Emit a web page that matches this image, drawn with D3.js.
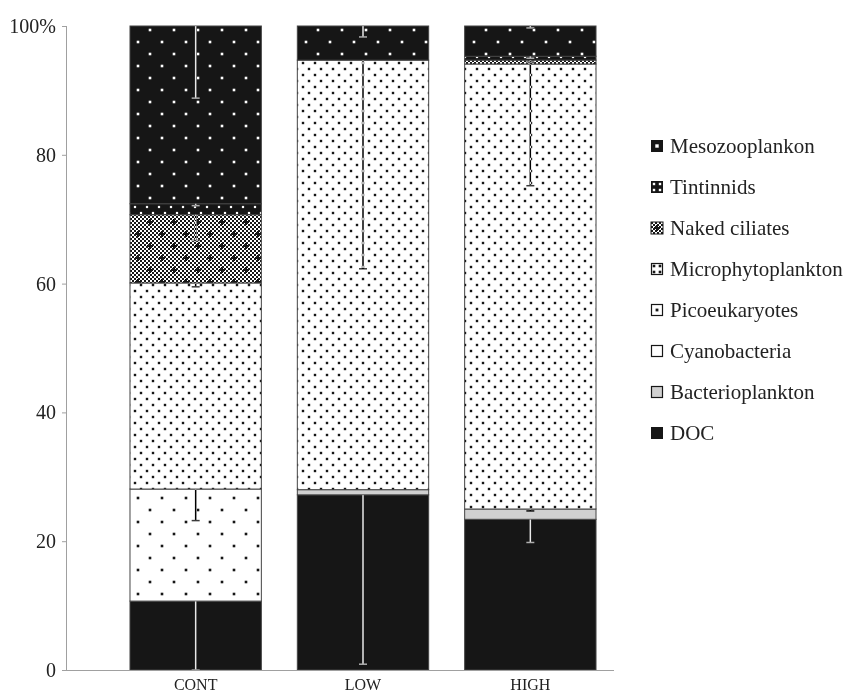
<!DOCTYPE html>
<html>
<head>
<meta charset="utf-8">
<script src="https://cdn.jsdelivr.net/npm/d3@7/dist/d3.min.js"></script>
<style>
  html, body { margin: 0; padding: 0; background: #fff; }
  svg { display: block; font-family: "Liberation Serif", "Times New Roman", serif; }
</style>
</head>
<body>
<svg id="chart" width="846" height="697"></svg>
<script>
// Treatments along the x axis
const categories = ["CONT", "LOW", "HIGH"];

// Compartments, stacked bottom to top
const seriesNames = ["DOC", "Bacterioplankton", "Cyanobacteria", "Picoeukaryotes",
  "Microphytoplankton", "Naked ciliates", "Tintinnids", "Mesozooplankon"];

// Share of the total (%) per treatment
const docVals   = [10.7, 27.2, 23.4];
const bactVals  = [0.0, 0.8, 1.6];
const cyanoVals = [0.0, 0.0, 0.0];
const picoVals  = [17.4, 0.0, 0.0];
const microVals = [32.0, 66.7, 69.1];
const nakedVals = [10.6, 0.0, 0.6];
const tintVals  = [1.7, 0.0, 0.6];
const mesoVals  = [27.6, 5.3, 4.7];

// Lower error bars (%) per treatment
const docErr   = [10.7, 26.3, 3.6];
const bactErr  = [0.0, 0.0, 0.3];
const cyanoErr = [0.0, 0.0, 0.0];
const picoErr  = [4.9, 0.0, 0.0];
const microErr = [0.6, 32.4, 18.9];
const nakedErr = [4.0, 0.0, 0.3];
const tintErr  = [0.3, 0.0, 0.3];
const mesoErr  = [11.2, 1.7, 0.3];

const yTicks = [0, 20, 40, 60, 80, 100];
const yTickLabels = ["0", "20", "40", "60", "80", "100%"];

const seriesVals = [docVals, bactVals, cyanoVals, picoVals, microVals, nakedVals, tintVals, mesoVals];
const seriesErrs = [docErr, bactErr, cyanoErr, picoErr, microErr, nakedErr, tintErr, mesoErr];

const rows = categories.map((c, i) => {
  const r = { cat: c };
  seriesNames.forEach((s, k) => { r[s] = seriesVals[k][i]; });
  return r;
});

const svg = d3.select("#chart");
const dark = "#161616";

// ---------- fill patterns ----------
const defs = svg.append("defs");

function dotPattern(id, size, bg, fg, dot) {
  const p = defs.append("pattern").attr("id", id)
    .attr("patternUnits", "userSpaceOnUse")
    .attr("width", size).attr("height", size);
  p.append("rect").attr("width", size).attr("height", size).attr("fill", bg);
  [[size / 4, size / 4], [3 * size / 4, 3 * size / 4]].forEach(([cx, cy]) => {
    p.append("rect").attr("x", cx - dot / 2).attr("y", cy - dot / 2)
      .attr("width", dot).attr("height", dot).attr("fill", fg);
  });
}

// fine checkerboard used by the naked-ciliate fill and its key
const chk = defs.append("pattern").attr("id", "chk")
  .attr("patternUnits", "userSpaceOnUse").attr("width", 4).attr("height", 4);
chk.append("rect").attr("width", 4).attr("height", 4).attr("fill", "#fff");
chk.append("rect").attr("width", 2).attr("height", 2).attr("fill", dark);
chk.append("rect").attr("x", 2).attr("y", 2).attr("width", 2).attr("height", 2).attr("fill", dark);

function crossAt(sel, cx, cy, arm) {
  sel.append("rect").attr("x", cx - arm).attr("y", cy - 1).attr("width", 2 * arm).attr("height", 2).attr("fill", dark);
  sel.append("rect").attr("x", cx - 1).attr("y", cy - arm).attr("width", 2).attr("height", 2 * arm).attr("fill", dark);
}

const naked = defs.append("pattern").attr("id", "naked")
  .attr("patternUnits", "userSpaceOnUse").attr("width", 24).attr("height", 24);
naked.append("rect").attr("width", 24).attr("height", 24).attr("fill", "url(#chk)");
crossAt(naked, 6, 6, 3);
crossAt(naked, 18, 18, 3);

dotPattern("meso", 24, dark, "#fff", 2.6);
dotPattern("tint", 12, dark, "#fff", 2.2);
dotPattern("micro", 12, "#fff", dark, 2.4);
dotPattern("pico", 24, "#fff", dark, 2.6);

function fillFor(name) {
  switch (name) {
    case "DOC": return dark;
    case "Bacterioplankton": return "#d0d0d0";
    case "Cyanobacteria": return "#fff";
    case "Picoeukaryotes": return "url(#pico)";
    case "Microphytoplankton": return "url(#micro)";
    case "Naked ciliates": return "url(#naked)";
    case "Tintinnids": return "url(#tint)";
    case "Mesozooplankon": return "url(#meso)";
  }
}

// ---------- scales ----------
const axisX = 67;
const x = d3.scaleBand().domain(categories).range([112, 614])
  .paddingInner(0.215).paddingOuter(0.1075);
const y = d3.scaleLinear().domain([0, 100]).range([670, 26]);

// ---------- bars ----------
const stacked = d3.stack().keys(seriesNames)(rows);

const barG = svg.append("g");
stacked.forEach(layer => {
  barG.selectAll(null).data(layer.filter(d => d[1] - d[0] > 0)).enter()
    .append("rect")
    .attr("x", d => x(d.data.cat))
    .attr("y", d => y(d[1]))
    .attr("width", x.bandwidth())
    .attr("height", d => y(d[0]) - y(d[1]))
    .attr("fill", fillFor(layer.key))
    .attr("stroke", "#444")
    .attr("stroke-width", 1);
});

// ---------- error bars (drawn downward from each segment top) ----------
const errG = svg.append("g").style("mix-blend-mode", "difference");
stacked.forEach((layer, k) => {
  layer.forEach((d, i) => {
    const e = seriesErrs[k][i];
    if (!(d[1] - d[0] > 0) || e <= 0) return;
    const cx = x(d.data.cat) + x.bandwidth() / 2;
    const lo = Math.max(0, d[1] - e);
    errG.append("line")
      .attr("x1", cx).attr("x2", cx)
      .attr("y1", y(d[1])).attr("y2", y(lo))
      .attr("stroke", "#fff").attr("stroke-width", 1.5);
    errG.append("line")
      .attr("x1", cx - 4).attr("x2", cx + 4)
      .attr("y1", y(lo)).attr("y2", y(lo))
      .attr("stroke", "#c4c4c4").attr("stroke-width", 1.5);
  });
});

// ---------- axes ----------
const axisColor = "#a0a0a0";
const yAxis = svg.append("g").attr("transform", `translate(${axisX},0)`)
  .call(d3.axisLeft(y).tickValues(yTicks).tickSize(5).tickPadding(6)
    .tickFormat((d, i) => yTickLabels[i]));
yAxis.select(".domain").attr("stroke", axisColor).attr("d", `M-0.5,${y(100)}V${y(0)}`);
yAxis.selectAll(".tick line").attr("stroke", axisColor);
yAxis.selectAll(".tick text").attr("fill", "#222").style("font-size", "20px")
  .style("font-family", "Liberation Serif");

const xAxis = svg.append("g").attr("transform", `translate(0,${y(0)})`)
  .call(d3.axisBottom(x).tickSize(0).tickPadding(9));
xAxis.select(".domain").attr("stroke", axisColor).attr("d", `M${axisX},0.5H614`);
xAxis.selectAll(".tick text").attr("fill", "#222").style("font-size", "16px")
  .style("font-family", "Liberation Serif");

// ---------- legend (top entry = top of the stack) ----------
const keyOrder = seriesNames.slice().reverse();
const legendY = d3.scalePoint().domain(keyOrder).range([146, 433]);
const K = 12; // key swatch size

function drawKey(g, name) {
  const dots = (pts, col, s) => pts.forEach(([px, py]) =>
    g.append("rect").attr("x", px - s / 2).attr("y", py - s / 2)
      .attr("width", s).attr("height", s).attr("fill", col));
  switch (name) {
    case "Mesozooplankon":
      g.append("rect").attr("width", K).attr("height", K).attr("fill", dark);
      dots([[K / 2, K / 2]], "#fff", 3.4);
      break;
    case "Tintinnids":
      g.append("rect").attr("width", K).attr("height", K).attr("fill", dark);
      dots([[3, 3], [9, 3], [3, 9], [9, 9]], "#fff", 2.4);
      break;
    case "Naked ciliates":
      g.append("rect").attr("width", K).attr("height", K).attr("fill", "url(#chk)")
        .attr("stroke", dark).attr("stroke-width", 1);
      crossAt(g, K / 2, K / 2, 3);
      break;
    case "Microphytoplankton":
      g.append("rect").attr("x", 0.5).attr("y", 0.5).attr("width", K - 1).attr("height", K - 1)
        .attr("fill", "#fff").attr("stroke", dark).attr("stroke-width", 1.2);
      dots([[3, 3], [9, 3], [3, 9], [9, 9]], dark, 2.6);
      break;
    case "Picoeukaryotes":
      g.append("rect").attr("x", 0.5).attr("y", 0.5).attr("width", K - 1).attr("height", K - 1)
        .attr("fill", "#fff").attr("stroke", dark).attr("stroke-width", 1.2);
      dots([[K / 2, K / 2]], dark, 2.8);
      break;
    case "Cyanobacteria":
      g.append("rect").attr("x", 0.5).attr("y", 0.5).attr("width", K - 1).attr("height", K - 1)
        .attr("fill", "#fff").attr("stroke", dark).attr("stroke-width", 1.2);
      break;
    case "Bacterioplankton":
      g.append("rect").attr("x", 0.5).attr("y", 0.5).attr("width", K - 1).attr("height", K - 1)
        .attr("fill", "#d0d0d0").attr("stroke", dark).attr("stroke-width", 1.2);
      break;
    case "DOC":
      g.append("rect").attr("width", K).attr("height", K).attr("fill", dark);
      break;
  }
}

const legend = svg.append("g");
keyOrder.forEach(name => {
  const row = legend.append("g").attr("transform", `translate(651,${legendY(name)})`);
  drawKey(row.append("g").attr("transform", `translate(0,${-K / 2})`), name);
  row.append("text").attr("x", 19).attr("y", 0).attr("dy", "0.35em")
    .attr("fill", "#222").style("font-size", "21px").text(name);
});
</script>
</body>
</html>
